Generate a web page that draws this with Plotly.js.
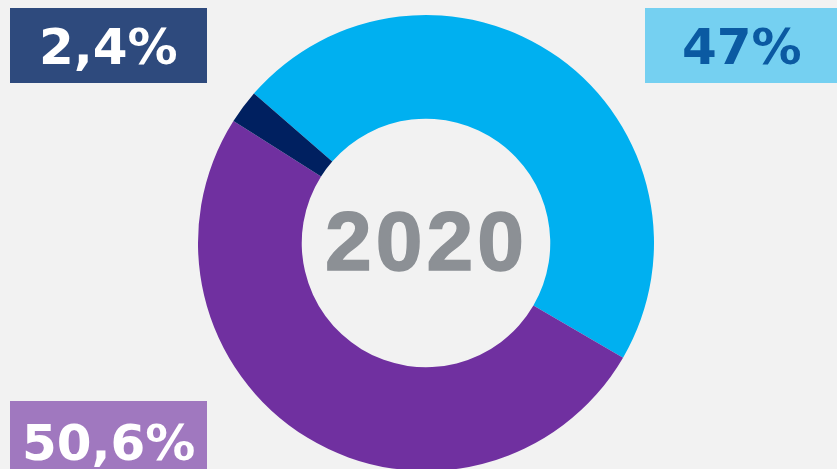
<!DOCTYPE html>
<html>
<head>
<meta charset="utf-8">
<script src="https://cdn.plot.ly/plotly-3.0.1.min.js"></script>
<style>
html,body{margin:0;padding:0;background:#F2F2F2;overflow:hidden;}
#chart{width:837px;height:471px;}
</style>
</head>
<body>
<div id="chart"></div>
<script>
const categories = ["Segment A", "Segment B", "Segment C"];
const values = [47, 50.6, 2.4];
const sliceColors = ["#00B0F0", "#7030A0", "#002060"];
const labelTexts = ["47%", "50,6%", "2,4%"];
const centerText = "2020";

const W = 837, H = 471;
const px = x => x / W;
const py = y => 1 - y / H;

// label boxes (pixel boxes), for slices: 47%, 50,6%, 2,4%
const boxes = [
  {x0: 645, x1: 837, y0: 8, y1: 83, fill: "#75D0F1", font: "#0B5AA2"},
  {x0: 10, x1: 207, y0: 401, y1: 480, fill: "#A078BF", font: "#FFFFFF"},
  {x0: 10, x1: 207, y0: 8, y1: 83, fill: "#2E4A7D", font: "#FFFFFF"}
];
const textCenters = [[742, 47], [108, 443], [108, 47]];

const shapes = boxes.map(b => ({
  type: "rect", xref: "paper", yref: "paper",
  x0: px(b.x0), x1: px(b.x1), y0: py(b.y1), y1: py(b.y0),
  fillcolor: b.fill, line: {width: 0}, layer: "below"
}));

const annotations = labelTexts.map((t, i) => ({
  text: t, xref: "paper", yref: "paper",
  x: px(textCenters[i][0]), y: py(textCenters[i][1]),
  xanchor: "center", yanchor: "middle", showarrow: false,
  font: {family: "DejaVu Sans", size: 50, color: boxes[i].font, weight: "bold"}
}));
annotations.push({
  text: centerText, xref: "paper", yref: "paper",
  x: px(426), y: py(241), xanchor: "center", yanchor: "middle", showarrow: false,
  font: {family: "Liberation Sans, Arial", size: 84, color: "#8C9095", weight: "bold"}
});

const trace = {
  type: "pie",
  labels: categories,
  values: values,
  marker: {colors: sliceColors, line: {width: 0}},
  hole: 0.545,
  sort: false,
  direction: "clockwise",
  rotation: -49,
  textinfo: "none",
  hoverinfo: "none",
  showlegend: false,
  domain: {x: [px(426) - 0.3, px(426) + 0.3], y: [0, 456 / H]}
};

Plotly.newPlot("chart", [trace], {
  width: W, height: H,
  margin: {l: 0, r: 0, t: 0, b: 0},
  paper_bgcolor: "#F2F2F2",
  plot_bgcolor: "#F2F2F2",
  shapes: shapes,
  annotations: annotations,
  showlegend: false
}, {displayModeBar: false, staticPlot: true}).then(() => {
  // widen the centre year slightly, as in the reference
  const nodes = document.querySelectorAll(".annotation-text");
  nodes.forEach(n => {
    if (n.textContent === centerText) {
      n.style.letterSpacing = "4px";
      n.style.strokeWidth = "1.5px";
      n.style.stroke = "#8C9095";
    }
  });
});
</script>
</body>
</html>
